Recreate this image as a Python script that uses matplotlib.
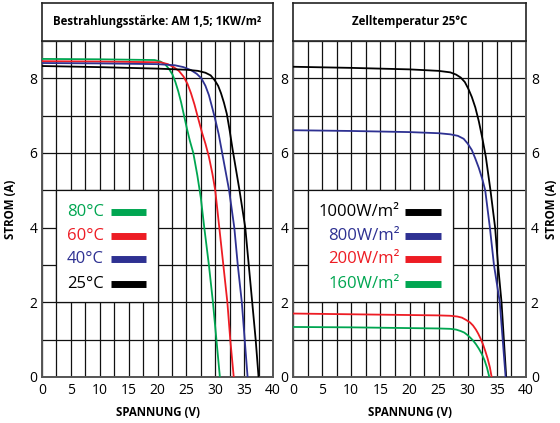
import numpy as np
import matplotlib
matplotlib.use('Agg')
import matplotlib.pyplot as plt
from matplotlib.patches import Rectangle

plt.rcParams['font.family'] = ['Open Sans', 'DejaVu Sans']

GREEN = '#00a651'
RED = '#ed1c24'
BLUE = '#2e3192'
BLACK = '#000000'

# left panel: I-V curves at different cell temperatures (AM 1.5, 1 kW/m2)
temp_labels = ['80°C', '60°C', '40°C', '25°C']
temp_colors = [GREEN, RED, BLUE, BLACK]

v_80 = [0, 10, 19.5, 20.5, 21.3, 22.0, 22.6, 23.1, 23.6, 24.1, 24.6, 25.1, 25.6, 26.2, 26.9, 27.5,
        28.1, 28.9, 29.6, 30.2, 30.8]
i_80 = [8.52, 8.51, 8.49, 8.45, 8.38, 8.25, 8.1, 7.9, 7.65, 7.35, 7.0, 6.65, 6.33, 6.0, 5.4, 4.8,
        4.0, 3.0, 2.0, 1.0, 0.0]

v_60 = [0, 10, 20.5, 21.8, 22.8, 23.7, 24.5, 25.2, 25.8, 26.4, 27.0, 27.7, 28.3, 28.9, 29.5, 30.0,
        30.7, 31.4, 32.1, 32.6, 33.2]
i_60 = [8.46, 8.45, 8.43, 8.38, 8.3, 8.2, 8.05, 7.85, 7.6, 7.3, 6.95, 6.55, 6.25, 5.9, 5.45, 5.0,
        4.0, 3.0, 2.0, 1.0, 0.0]

v_40 = [0, 10, 20, 23, 24.5, 25.8, 26.8, 27.6, 28.3, 28.9, 29.5, 30.0, 30.6, 31.2, 31.8, 32.4,
        33.3, 33.9, 34.6, 35.1, 35.6]
i_40 = [8.41, 8.40, 8.38, 8.35, 8.3, 8.22, 8.12, 8.0, 7.8, 7.55, 7.2, 6.9, 6.5, 6.0, 5.5, 5.0,
        4.0, 3.0, 2.0, 1.0, 0.0]

v_25 = [0, 10, 20, 25, 27, 28.3, 29.2, 29.9, 30.5, 31.0, 31.5, 32.0, 32.5, 33.0, 33.6, 34.2,
        34.7, 35.2, 35.8, 36.4, 37.0, 37.5]
i_25 = [8.33, 8.30, 8.26, 8.23, 8.2, 8.15, 8.08, 7.95, 7.8, 7.6, 7.35, 7.05, 6.6, 6.1, 5.55, 5.0,
        4.5, 4.0, 3.0, 2.0, 1.0, 0.0]

# right panel: I-V curves at different irradiance (cell temp 25 C)
irr_labels = ['1000W/m²', '800W/m²', '200W/m²', '160W/m²']
irr_colors = [BLACK, BLUE, RED, GREEN]

v_1000 = [0, 10, 20, 25, 27, 28, 28.8, 29.5, 30.1, 30.7, 31.3, 31.9, 32.5, 33.1, 33.9, 34.7,
          35.2, 35.8, 36.2, 36.6]
i_1000 = [8.31, 8.28, 8.24, 8.2, 8.16, 8.1, 8.02, 7.9, 7.72, 7.5, 7.22, 6.85, 6.4, 5.9, 5.0, 4.0,
          3.0, 2.0, 1.0, 0.0]

v_800 = [0, 10, 20, 25, 27, 28.3, 29.3, 30.0, 30.7, 31.3, 31.9, 32.5, 33.0, 33.8, 34.5, 35.0,
         35.5, 36.0, 36.5]
i_800 = [6.61, 6.59, 6.56, 6.53, 6.5, 6.46, 6.38, 6.25, 6.08, 5.85, 5.6, 5.3, 5.0, 4.0, 3.0, 2.5,
         2.0, 1.0, 0.0]

v_200 = [0, 10, 20, 25, 27, 28.2, 29.0, 29.7, 30.4, 30.9, 31.4, 31.8, 32.2, 32.6, 33.0, 33.4,
         33.8, 34.1]
i_200 = [1.70, 1.68, 1.66, 1.65, 1.64, 1.62, 1.59, 1.53, 1.46, 1.38, 1.27, 1.16, 1.03, 0.88, 0.7,
         0.5, 0.26, 0.0]

v_160 = [0, 10, 20, 25, 27, 28, 28.8, 29.4, 29.9, 30.4, 30.9, 31.4, 31.9, 32.4, 32.9, 33.3, 33.7]
i_160 = [1.34, 1.33, 1.31, 1.30, 1.29, 1.27, 1.23, 1.19, 1.13, 1.06, 0.98, 0.88, 0.76, 0.62, 0.44,
         0.25, 0.0]

W, H = 560, 423
fig = plt.figure(figsize=(W / 100, H / 100), dpi=100)


def px_axes(x0, y0, x1, y1):
    return fig.add_axes([x0 / W, 1 - y1 / H, (x1 - x0) / W, (y1 - y0) / H])


def style_panel(ax):
    ax.set_xlim(0, 40)
    ax.set_ylim(0, 9)
    ax.set_xticks(np.arange(0, 41, 5))
    ax.set_xticks(np.arange(0, 41, 2.5), minor=True)
    ax.set_yticks(np.arange(0, 9, 2))
    ax.set_yticks(np.arange(0, 10, 1), minor=True)
    ax.grid(True, which='both', color='#111111', lw=0.9)
    ax.set_axisbelow(True)
    ax.tick_params(which='both', length=0, labelsize=10)
    ax.tick_params(axis='x', pad=4.5)
    ax.tick_params(axis='y', pad=3.5)
    for s in ax.spines.values():
        s.set_color('#555555')
        s.set_linewidth(1.4)
    ax.set_xlabel('SPANNUNG (V)', fontsize=8.3, fontweight='bold')
    ax.xaxis.set_label_coords(0.5, -0.087)


def header(x0, x1, title):
    hx = px_axes(x0, 3, x1, 41)
    hx.set_xticks([])
    hx.set_yticks([])
    for s in hx.spines.values():
        s.set_color('#222222')
        s.set_linewidth(1.2)
    hx.text(0.5, 0.5, title, ha='center', va='center', fontsize=8.3, fontweight='bold')


def legend_box(ax, x1, labels, colors, xt, xb0, xb1):
    ax.add_patch(Rectangle((2.5, 2), x1 - 2.5, 3, facecolor='white',
                           edgecolor='#111111', lw=0.9, zorder=2))
    rows = [4.43, 3.79, 3.15, 2.48]
    for lab, col, y in zip(labels, colors, rows):
        ax.text(xt, y, lab, color=col, ha='right', va='center', fontsize=12, zorder=3)
        ax.plot([xb0, xb1], [y, y], color=col, lw=5, solid_capstyle='butt', zorder=3)


# left panel
ax1 = px_axes(42, 41, 273, 377)
style_panel(ax1)
for v, i, c in zip([v_80, v_60, v_40, v_25], [i_80, i_60, i_40, i_25], temp_colors):
    ax1.plot(v, i, color=c, lw=1.3, zorder=4)
legend_box(ax1, 20, temp_labels, temp_colors, 10.7, 11.9, 18.0)
ax1.set_ylabel('STROM (A)', fontsize=8.3, fontweight='bold')
ax1.yaxis.set_label_coords(-0.11, 0.5)
header(42, 273, 'Bestrahlungsstärke: AM 1,5; 1KW/m²')

# right panel
ax2 = px_axes(293, 41, 526, 377)
style_panel(ax2)
for v, i, c in zip([v_1000, v_800, v_200, v_160], [i_1000, i_800, i_200, i_160], irr_colors):
    ax2.plot(v, i, color=c, lw=1.3, zorder=4)
legend_box(ax2, 27.5, irr_labels, irr_colors, 18.3, 19.3, 25.4)
ax2.tick_params(axis='y', which='both', labelleft=True, labelright=True)
ax2.yaxis.set_label_position('right')
ax2.set_ylabel('STROM (A)', fontsize=8.3, fontweight='bold')
ax2.yaxis.set_label_coords(1.08, 0.5)
header(293, 526, 'Zelltemperatur 25°C')

fig.savefig('out.png', dpi=100)
